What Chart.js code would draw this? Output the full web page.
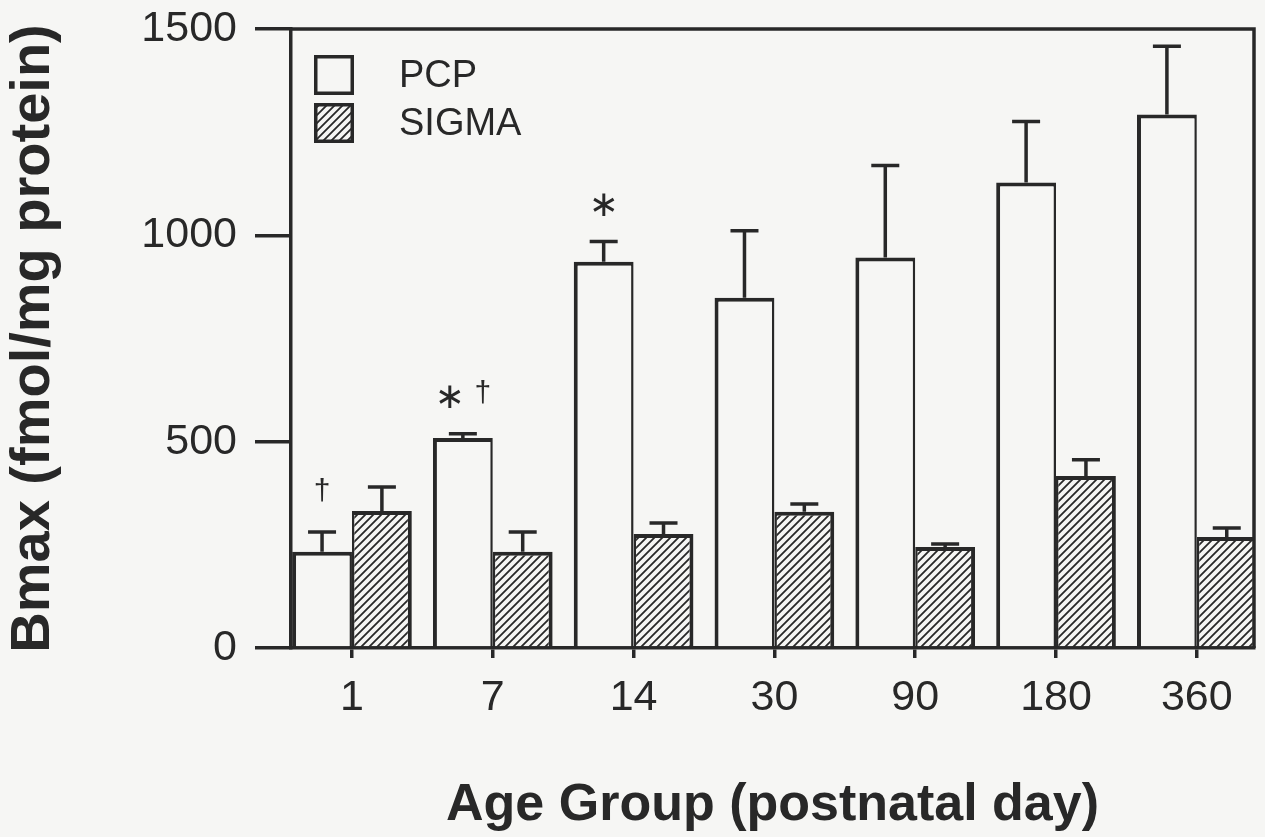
<!DOCTYPE html>
<html>
<head>
<meta charset="utf-8">
<title>Bmax by age group</title>
<script src="https://cdn.jsdelivr.net/npm/chart.js@4.4.1/dist/chart.umd.min.js"></script>
<style>
  html, body { margin: 0; padding: 0; background: #f6f6f4; }
  #wrap { width: 1265px; height: 837px; }
  canvas { display: block; }
</style>
</head>
<body>
<div id="wrap"><canvas id="chart" width="1265" height="837"></canvas></div>
<script>
// Age groups (postnatal day) and binding data (fmol/mg protein)
const ageGroups = ['1', '7', '14', '30', '90', '180', '360'];
const pcpMean   = [233, 509, 936, 849, 946, 1128, 1293];
const pcpErr    = [48, 10, 49, 162, 223, 148, 165];
const sigmaMean = [332, 233, 276, 330, 245, 417, 269];
const sigmaErr  = [58, 48, 27, 19, 7, 39, 22];
// significance marks above the PCP bars
const pcpMarks  = ['†', '∗†', '∗', '', '', '', ''];
const yTicks    = [0, 500, 1000, 1500];

const ink = '#282828';
const paper = '#f6f6f4';
const family = '"Liberation Sans", Arial, Helvetica, sans-serif';

// diagonal hatching for the SIGMA bars
function makeHatch() {
  const s = 8;
  const c = document.createElement('canvas');
  c.width = s; c.height = s;
  const g = c.getContext('2d');
  g.fillStyle = paper;
  g.fillRect(0, 0, s, s);
  g.strokeStyle = ink;
  g.lineWidth = 1.8;
  g.beginPath();
  g.moveTo(0, s); g.lineTo(s, 0);
  g.moveTo(-s / 2, s / 2); g.lineTo(s / 2, -s / 2);
  g.moveTo(s / 2, s * 1.5); g.lineTo(s * 1.5, s / 2);
  g.stroke();
  return g.createPattern(c, 'repeat');
}
const hatch = makeHatch();

const errorSets = [pcpErr, sigmaErr];

// upward-only error bars with caps
const errorBars = {
  id: 'errorBars',
  afterDatasetsDraw(chart) {
    const ctx = chart.ctx;
    const y = chart.scales.y;
    ctx.save();
    ctx.strokeStyle = ink;
    ctx.lineWidth = 3.5;
    ctx.lineCap = 'butt';
    chart.data.datasets.forEach((ds, di) => {
      const meta = chart.getDatasetMeta(di);
      meta.data.forEach((bar, i) => {
        const v = ds.data[i].y;
        const top = y.getPixelForValue(v + errorSets[di][i]);
        ctx.beginPath();
        ctx.moveTo(bar.x, bar.y);
        ctx.lineTo(bar.x, top);
        ctx.moveTo(bar.x - 14, top);
        ctx.lineTo(bar.x + 14, top);
        ctx.stroke();
      });
    });
    ctx.restore();
  }
};

// significance symbols above the PCP error caps
const sigMarks = {
  id: 'sigMarks',
  afterDatasetsDraw(chart) {
    const ctx = chart.ctx;
    const y = chart.scales.y;
    const meta = chart.getDatasetMeta(0);
    ctx.save();
    ctx.fillStyle = ink;
    ctx.textBaseline = 'middle';
    ctx.textAlign = 'left';
    meta.data.forEach((bar, i) => {
      const txt = pcpMarks[i];
      if (!txt) return;
      const cy = y.getPixelForValue(pcpMean[i] + pcpErr[i]) - 37;
      const parts = [...txt].map(ch => ({
        ch,
        font: ch === '†' ? '30px ' + family : '36px "DejaVu Sans", sans-serif'
      }));
      const gap = 10;
      let total = 0;
      parts.forEach(p => { ctx.font = p.font; p.w = ctx.measureText(p.ch).width; total += p.w; });
      total += gap * (parts.length - 1);
      let x = bar.x - total / 2;
      parts.forEach(p => {
        ctx.font = p.font;
        ctx.fillText(p.ch, x, p.ch === '†' ? cy - 3 : cy + 2);
        x += p.w + gap;
      });
    });
    ctx.restore();
  }
};

// top and right sides of the frame
const frame = {
  id: 'frame',
  afterDraw(chart) {
    const { left, right, top, bottom } = chart.chartArea;
    const ctx = chart.ctx;
    ctx.save();
    ctx.strokeStyle = ink;
    ctx.lineWidth = 3.5;
    ctx.beginPath();
    ctx.moveTo(left, top);
    ctx.lineTo(right, top);
    ctx.lineTo(right, bottom);
    ctx.stroke();
    ctx.restore();
  }
};

// legend inside the plot, stacked vertically
const insideLegend = {
  id: 'insideLegend',
  afterDraw(chart) {
    const ctx = chart.ctx;
    const ca = chart.chartArea;
    ctx.save();
    chart.data.datasets.forEach((ds, i) => {
      const sz = 40;
      const bx = ca.left + 23;
      const by = ca.top + 26 + i * 48;
      ctx.fillStyle = ds.backgroundColor;
      ctx.fillRect(bx, by, sz, sz);
      ctx.strokeStyle = ink;
      ctx.lineWidth = 3.5;
      ctx.strokeRect(bx + 1.75, by + 1.75, sz - 3.5, sz - 3.5);
      ctx.fillStyle = ink;
      ctx.font = '38px ' + family;
      ctx.textBaseline = 'middle';
      ctx.textAlign = 'left';
      ctx.fillText(ds.label, bx + 85, by + sz / 2 + 2);
    });
    ctx.restore();
  }
};

// fixed axis boxes so the plot frame lands where it should
function pinBox(size, key) {
  return s => {
    s[key] = size;
    s.paddingTop = 0; s.paddingBottom = 0;
    s.paddingLeft = 0; s.paddingRight = 0;
  };
}

new Chart(document.getElementById('chart'), {
  type: 'bar',
  data: {
    datasets: [
      {
        label: 'PCP',
        data: pcpMean.map((v, i) => ({ x: i, y: v })),
        backgroundColor: paper,
        borderColor: ink,
        borderWidth: { top: 4, left: 4, right: 2.5, bottom: 0 },
        borderSkipped: false
      },
      {
        label: 'SIGMA',
        data: sigmaMean.map((v, i) => ({ x: i, y: v })),
        backgroundColor: hatch,
        borderColor: ink,
        borderWidth: { top: 4, left: 2.5, right: 4, bottom: 0 },
        borderSkipped: false
      }
    ]
  },
  options: {
    responsive: false,
    animation: false,
    devicePixelRatio: 1,
    layout: { padding: { top: 29, right: 11, left: 0, bottom: 0 } },
    categoryPercentage: 0.85,
    barPercentage: 1.0,
    plugins: {
      legend: { display: false },
      tooltip: { enabled: false }
    },
    scales: {
      x: {
        type: 'linear',
        min: -0.433,
        max: 6.406,
        offset: false,
        grid: {
          display: true, drawOnChartArea: false, drawTicks: true,
          tickLength: 10, lineWidth: 3.5, color: ink, offset: false
        },
        border: { display: true, width: 3.5, color: ink },
        afterBuildTicks: s => { s.ticks = ageGroups.map((_, i) => ({ value: i })); },
        ticks: {
          callback: v => ageGroups[v],
          font: { size: 43, family },
          color: ink,
          padding: 14,
          maxRotation: 0,
          autoSkip: false
        },
        title: {
          display: true,
          text: 'Age Group (postnatal day)',
          font: { size: 52, weight: 'bold', family },
          color: ink,
          padding: 0
        },
        afterFit: pinBox(189, 'height')
      },
      y: {
        min: 0,
        max: 1500,
        grid: {
          display: true, drawOnChartArea: false, drawTicks: true,
          tickLength: 36, lineWidth: 3.5, color: ink
        },
        border: { display: true, width: 3.5, color: ink },
        afterBuildTicks: s => { s.ticks = yTicks.map(v => ({ value: v })); },
        ticks: {
          callback: v => String(v),
          font: { size: 43, family },
          color: ink,
          padding: 18
        },
        title: {
          display: true,
          text: 'Bmax (fmol/mg protein)',
          font: { size: 56, weight: 'bold', family },
          color: ink,
          padding: 0
        },
        afterFit: pinBox(291, 'width')
      }
    }
  },
  plugins: [errorBars, sigMarks, frame, insideLegend]
});
</script>
</body>
</html>
